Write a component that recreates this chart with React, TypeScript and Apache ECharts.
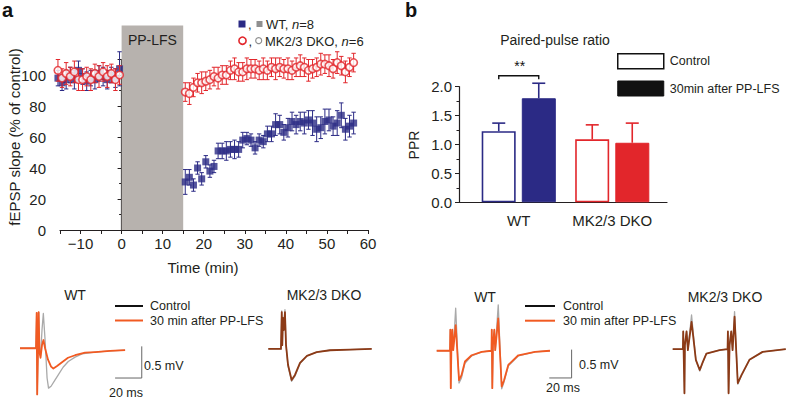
import React, { useEffect, useRef } from 'react';
import * as echarts from 'echarts';

// ---------- Panel a: time course ----------
const baseTime = [-15.5, -14.5, -13.5, -12.5, -11.5, -10.5, -9.5, -8.5, -7.5, -6.5, -5.5, -4.5, -3.5, -2.5, -1.5, -0.5];
const wtBase = [98, 95, 97, 100, 97, 103, 99, 96, 98, 97, 101, 99, 97, 100, 98, 104];
const wtBaseErr = [5, 5, 6, 5, 6, 6, 5, 6, 5, 6, 5, 6, 6, 5, 6, 11];
const dkoBase = [103, 98, 101, 99, 102, 97, 97, 99, 97, 101, 99, 102, 99, 101, 97, 100];
const dkoBaseErr = [7, 6, 7, 6, 7, 7, 7, 6, 7, 6, 7, 6, 7, 6, 7, 6];

const postTime = [15.5, 16.5, 17.5, 18.5, 19.5, 20.5, 21.5, 22.5, 23.5, 24.5, 25.5, 26.5, 27.5, 28.5, 29.5, 30.5, 31.5, 32.5, 33.5, 34.5, 35.5, 36.5, 37.5, 38.5, 39.5, 40.5, 41.5, 42.5, 43.5, 44.5, 45.5, 46.5, 47.5, 48.5, 49.5, 50.5, 51.5, 52.5, 53.5, 54.5, 55.5, 56.5];
const wtPost = [31, 34, 29, 40, 33, 44, 38, 41, 51, 51, 51, 52, 52, 52, 58, 59, 58, 53, 58, 57, 62, 62, 68, 68, 63, 66, 70, 68, 70, 69, 71, 69, 65, 66, 70, 71, 67, 69, 74, 65, 67, 69];
const wtPostErr = [8, 5, 4, 4, 4, 4, 4, 4, 5, 5, 6, 5, 6, 5, 5, 4, 4, 4, 4, 4, 5, 5, 7, 6, 5, 6, 6, 6, 6, 7, 6, 8, 8, 7, 8, 7, 6, 8, 8, 7, 7, 7];
const dkoPost = [89, 88, 92, 95, 95, 96, 97, 99, 98, 100, 100, 103, 104, 102, 102, 104, 104, 104, 103, 104, 103, 105, 104, 105, 104, 104, 103, 105, 106, 105, 103, 104, 105, 107, 107, 106, 104, 108, 106, 102, 105, 108];
const dkoPostErr = [6, 7, 6, 6, 7, 6, 6, 6, 7, 6, 6, 6, 7, 6, 6, 7, 6, 6, 6, 7, 6, 6, 7, 6, 6, 7, 6, 6, 7, 6, 7, 6, 6, 7, 6, 7, 6, 7, 6, 7, 6, 6];

const ppLfsWindow = [0, 15]; // min
const ppLfsBoxTop = 132;

// ---------- Panel b: paired-pulse ratio ----------
const pprGroups = ['WT', 'MK2/3 DKO'];
const pprControl = [1.23, 1.09];
const pprControlErr = [0.14, 0.25];
const pprAfter = [1.8, 1.03];
const pprAfterErr = [0.26, 0.34];
const pprTicks = [0, 0.5, 1.0, 1.5, 2.0];

// ---------- Example traces (ms, mV) ----------
const wtA_ctrl = [[0, 0], [12, 0], [12.5, 0.56], [12.9, -0.73], [13.5, -0.03], [14.0, 0.57], [14.6, -0.06], [15.4, -0.12], [16.5, 0.29], [17.5, 0.55], [18.8, 0.13], [20.3, -0.47], [21.4, -0.63], [23.3, -0.6], [26.3, -0.5], [28.7, -0.42], [32.3, -0.3], [36.2, -0.21], [41.3, -0.14], [46.5, -0.09], [56.3, -0.06], [67.5, -0.04], [78.8, -0.03]];
const wtA_lfs = [[0, 0], [12, 0], [12.5, 0.56], [12.9, -0.73], [13.5, -0.03], [14.0, 0.57], [14.6, -0.06], [15.4, -0.15], [16.5, 0.05], [17.6, 0.13], [18.8, 0.0], [21, -0.18], [23.3, -0.29], [25, -0.32], [27.8, -0.28], [31.5, -0.22], [36, -0.15], [41.3, -0.11], [48.8, -0.07], [56.3, -0.06], [67.5, -0.04], [78.8, -0.03]];
const dkoA_ctrl = [[0, 0], [9.5, 0], [10.1, 0.6], [10.5, 0.06], [11.0, 0.5], [11.6, 0.3], [12.5, 0.62], [13.3, 0.06], [14.8, -0.27], [17.5, -0.51], [20, -0.43], [23.8, -0.23], [29, -0.11], [36.3, -0.05], [46.3, -0.02], [61.3, -0.01], [77.6, 0]];
const dkoA_lfs = [[0, 0], [9.5, 0], [10.1, 0.58], [10.5, 0.06], [11.0, 0.49], [11.6, 0.3], [12.5, 0.58], [13.3, 0.06], [14.8, -0.25], [17.5, -0.49], [20, -0.41], [23.8, -0.22], [29, -0.11], [36.3, -0.05], [46.3, -0.02], [61.3, -0.01], [77.6, 0]];
const wtB_ctrl = [[0, 0], [11.9, 0], [12.2, 0.37], [12.6, -0.66], [13.2, 0.1], [14.0, 0.37], [14.8, 0.01], [17.0, 0.75], [20.0, -0.57], [22.2, -0.48], [25.3, -0.22], [31.3, -0.09], [40.3, -0.02], [49.1, 0], [49.3, 0.37], [49.8, -0.66], [50.4, 0.1], [51.6, 0.37], [52.4, 0.01], [55.1, 0.81], [58.2, -0.67], [60.3, -0.55], [64.1, -0.27], [73.1, -0.09], [88.0, -0.02], [101.4, 0]];
const wtB_lfs = [[0, 0], [11.9, 0], [12.2, 0.37], [12.6, -0.66], [13.2, 0.1], [14.0, 0.37], [14.8, 0.01], [17.0, 0.45], [20.0, -0.52], [22.2, -0.43], [25.3, -0.19], [31.3, -0.08], [40.3, -0.02], [49.1, 0], [49.3, 0.37], [49.8, -0.66], [50.4, 0.1], [51.6, 0.37], [52.4, 0.01], [55.1, 0.57], [58.2, -0.63], [60.3, -0.52], [64.1, -0.25], [73.1, -0.08], [88.0, -0.02], [101.4, 0]];
const dkoB_ctrl = [[0, 0], [9.2, 0], [9.5, 0.31], [10.6, -0.78], [11.0, 0.07], [12.5, 0.31], [13.7, -0.02], [17.0, 0.6], [20.9, -0.2], [24.4, -0.39], [27.1, -0.24], [30.4, -0.08], [42.3, -0.02], [49.5, 0], [49.8, 0.31], [50.4, -0.78], [51.3, 0.07], [52.8, 0.31], [54, -0.02], [55.8, 0.66], [58.7, -0.62], [62, -0.47], [69.2, -0.19], [81.1, -0.05], [102, 0]];
const dkoB_lfs = [[0, 0], [9.2, 0], [9.5, 0.31], [10.6, -0.78], [11.0, 0.07], [12.5, 0.31], [13.7, -0.02], [17.0, 0.48], [20.9, -0.19], [24.4, -0.37], [27.1, -0.23], [30.4, -0.08], [42.3, -0.02], [49.5, 0], [49.8, 0.31], [50.4, -0.78], [51.3, 0.07], [52.8, 0.31], [54, -0.02], [55.8, 0.57], [58.7, -0.6], [62, -0.46], [69.2, -0.19], [81.1, -0.05], [102, 0]];
// scale bars: 20 ms x 0.5 mV (L shape)
const scaleBarA = [[71.3, -0.47], [91.3, -0.47], [91.3, 0.03]];
const scaleBarB = [[100.8, -0.48], [120.8, -0.48], [120.8, 0.02]];

const NAVY = '#2b2a85';
const RED = '#e2262b';
const ORANGE = '#f15a22';
const BROWN = '#8c3a16';
const GRAYBOX = '#b7b2ae';
const TXT = '#231f20';
const FONT = '"Liberation Sans", Arial, Helvetica, sans-serif';

function errRender(color: string) {
  return (params: any, api: any) => {
    const x = api.value(0), y = api.value(1), e = api.value(2);
    const p1 = api.coord([x, y + e]);
    const p2 = api.coord([x, y - e]);
    const c = 2.2;
    const st = { stroke: color, lineWidth: 1 };
    return {
      type: 'group',
      children: [
        { type: 'line', shape: { x1: p1[0], y1: p1[1], x2: p2[0], y2: p2[1] }, style: st },
        { type: 'line', shape: { x1: p1[0] - c, y1: p1[1], x2: p1[0] + c, y2: p1[1] }, style: st },
        { type: 'line', shape: { x1: p2[0] - c, y1: p2[1], x2: p2[0] + c, y2: p2[1] }, style: st },
      ],
    };
  };
}

function zip3(t: number[], v: number[], e: number[]) {
  return t.map((x, i) => [x, v[i], e[i]]);
}
function zip2(t: number[], v: number[]) {
  return t.map((x, i) => [x, v[i]]);
}

export default function App() {
  const ref = useRef<HTMLDivElement>(null);
  useEffect(() => {
    if (!ref.current) return;
    const chart = echarts.init(ref.current, null, { renderer: 'svg' });

    const traceAxisX = (min: number, max: number, gi: number) => ({ type: 'value', gridIndex: gi, min, max, show: false });
    const traceAxisY = (min: number, max: number, gi: number) => ({ type: 'value', gridIndex: gi, min, max, show: false });
    const traceLine = (name: string, data: number[][], idx: number, color: string, w = 1.5, z = 3) => ({
      type: 'line', name, data, xAxisIndex: idx, yAxisIndex: idx, showSymbol: false, symbol: 'none', clip: false,
      lineStyle: { color, width: w, join: 'round' }, itemStyle: { color }, z, silent: true,
    });

    const barSide = 20; // half distance between paired bar centres (px)

    const option: any = {
      animation: false,
      textStyle: { fontFamily: FONT, color: TXT },
      grid: [
        { left: 60, top: 59.5, width: 308, height: 170.5 },
        { left: 472, top: 86.7, width: 187, height: 115.6 },
        { left: 459, top: 86.7, width: 208, height: 115.6 },
        { left: 20, top: 310.3, width: 126.7, height: 88.6 },
        { left: 268.3, top: 311, width: 106.6, height: 88.6 },
        { left: 436.7, top: 299.7, width: 139.6, height: 96.4 },
        { left: 672.7, top: 298, width: 116.2, height: 96.4 },
      ],
      xAxis: [
        {
          type: 'value', gridIndex: 0, min: -15, max: 60, interval: 5,
          axisLine: { show: true, lineStyle: { color: TXT, width: 1.2 } },
          axisTick: { show: true, inside: false, length: 4, lineStyle: { color: TXT } },
          axisLabel: {
            fontSize: 15, color: TXT, fontFamily: FONT, margin: 6,
            formatter: (v: number) => (v % 10 !== 0 ? '' : v < 0 ? '\u2212' + Math.abs(v) : String(v)),
          },
          splitLine: { show: false },
        },
        {
          type: 'category', gridIndex: 1, data: pprGroups,
          axisLine: { show: false }, axisTick: { show: false },
          axisLabel: { fontSize: 15, color: TXT, fontFamily: FONT, margin: 11, interval: 0 },
        },
        {
          type: 'value', gridIndex: 2, min: 0, max: 1,
          axisLine: { show: true, lineStyle: { color: TXT, width: 1.2 } },
          axisTick: { show: false }, axisLabel: { show: false }, splitLine: { show: false },
        },
        traceAxisX(0, 95, 3),
        traceAxisX(0, 80, 4),
        traceAxisX(0, 125, 5),
        traceAxisX(0, 104, 6),
      ],
      yAxis: [
        {
          type: 'value', gridIndex: 0, min: 0, max: 110, interval: 20, offset: 8,
          axisLine: { show: true, lineStyle: { color: TXT, width: 1.2 } },
          axisTick: { show: true, length: 4, lineStyle: { color: TXT } },
          minorTick: { show: true, splitNumber: 2, length: 2.5, lineStyle: { color: TXT } },
          axisLabel: { fontSize: 15, color: TXT, fontFamily: FONT, margin: 6, showMaxLabel: false },
          splitLine: { show: false },
        },
        {
          type: 'value', gridIndex: 1, min: pprTicks[0], max: pprTicks[pprTicks.length - 1], interval: 0.5, offset: 13,
          axisLine: { show: true, lineStyle: { color: TXT, width: 1.2 } },
          axisTick: { show: true, length: 4, lineStyle: { color: TXT } },
          minorTick: { show: true, splitNumber: 2, length: 2.5, lineStyle: { color: TXT } },
          axisLabel: { fontSize: 15, color: TXT, fontFamily: FONT, margin: 7, formatter: (v: number) => v.toFixed(1) },
          splitLine: { show: false },
        },
        { type: 'value', gridIndex: 2, show: false, min: 0, max: 1 },
        traceAxisY(-0.8, 0.6, 3),
        traceAxisY(-0.8, 0.6, 4),
        traceAxisY(-0.8, 0.9, 5),
        traceAxisY(-0.8, 0.9, 6),
      ],
      legend: {
        show: true, orient: 'vertical', left: 617, top: 53, padding: 0,
        itemWidth: 46, itemHeight: 15, itemGap: 11, icon: 'rect',
        textStyle: { fontSize: 12.5, color: TXT, fontFamily: FONT, padding: [0, 0, 0, 1] },
        selectedMode: false,
        data: [
          { name: 'Control', itemStyle: { color: '#ffffff', borderColor: '#111', borderWidth: 1.5 } },
          { name: '30min after PP-LFS', itemStyle: { color: '#111', borderColor: '#111', borderWidth: 1 } },
        ],
      },
      series: [
        // PP-LFS box
        {
          type: 'custom', xAxisIndex: 0, yAxisIndex: 0, clip: false, z: 1, silent: true,
          data: [[ppLfsWindow[0], ppLfsWindow[1], ppLfsBoxTop]],
          renderItem: (params: any, api: any) => {
            const p0 = api.coord([api.value(0), 0]);
            const p1 = api.coord([api.value(1), api.value(2)]);
            return {
              type: 'group',
              children: [
                { type: 'rect', shape: { x: p0[0], y: p1[1], width: p1[0] - p0[0], height: p0[1] - p1[1] }, style: { fill: GRAYBOX } },
                {
                  type: 'text', x: (p0[0] + p1[0]) / 2, y: p1[1] + 15,
                  style: { text: 'PP-LFS', fill: TXT, font: '14px ' + FONT, align: 'center', verticalAlign: 'middle' },
                },
              ],
            };
          },
        },
        // WT error bars + markers
        { type: 'custom', name: 'wtErrBase', xAxisIndex: 0, yAxisIndex: 0, clip: false, z: 2, silent: true, data: zip3(baseTime, wtBase, wtBaseErr), renderItem: errRender(NAVY) },
        { type: 'custom', name: 'wtErrPost', xAxisIndex: 0, yAxisIndex: 0, clip: false, z: 2, silent: true, data: zip3(postTime, wtPost, wtPostErr), renderItem: errRender(NAVY) },
        { type: 'scatter', name: 'WT base', xAxisIndex: 0, yAxisIndex: 0, clip: false, z: 3, symbol: 'rect', symbolSize: 7, itemStyle: { color: NAVY }, data: zip2(baseTime, wtBase) },
        { type: 'scatter', name: 'WT post', xAxisIndex: 0, yAxisIndex: 0, clip: false, z: 3, symbol: 'rect', symbolSize: 7, itemStyle: { color: NAVY }, data: zip2(postTime, wtPost) },
        // DKO error bars + markers
        { type: 'custom', name: 'dkoErrBase', xAxisIndex: 0, yAxisIndex: 0, clip: false, z: 4, silent: true, data: zip3(baseTime, dkoBase, dkoBaseErr), renderItem: errRender(RED) },
        { type: 'custom', name: 'dkoErrPost', xAxisIndex: 0, yAxisIndex: 0, clip: false, z: 4, silent: true, data: zip3(postTime, dkoPost, dkoPostErr), renderItem: errRender(RED) },
        { type: 'scatter', name: 'DKO base', xAxisIndex: 0, yAxisIndex: 0, clip: false, z: 5, symbol: 'circle', symbolSize: 7.5, itemStyle: { color: '#fff', borderColor: RED, borderWidth: 1.6 }, data: zip2(baseTime, dkoBase) },
        { type: 'scatter', name: 'DKO post', xAxisIndex: 0, yAxisIndex: 0, clip: false, z: 5, symbol: 'circle', symbolSize: 7.5, itemStyle: { color: '#fff', borderColor: RED, borderWidth: 1.6 }, data: zip2(postTime, dkoPost) },

        // Panel b bars
        {
          type: 'bar', name: 'Control', xAxisIndex: 1, yAxisIndex: 1, barWidth: 34, barGap: '18%', z: 2,
          itemStyle: { color: '#ffffff', borderColor: '#111', borderWidth: 1.5 },
          data: [
            { value: pprControl[0], itemStyle: { color: '#ffffff', borderColor: NAVY, borderWidth: 1.6 } },
            { value: pprControl[1], itemStyle: { color: '#ffffff', borderColor: RED, borderWidth: 1.6 } },
          ],
        },
        {
          type: 'bar', name: '30min after PP-LFS', xAxisIndex: 1, yAxisIndex: 1, barWidth: 34, barGap: '18%', z: 2,
          itemStyle: { color: '#111' },
          data: [
            { value: pprAfter[0], itemStyle: { color: NAVY, borderColor: NAVY, borderWidth: 1 } },
            { value: pprAfter[1], itemStyle: { color: RED, borderColor: RED, borderWidth: 1 } },
          ],
        },
        // Panel b error bars (upper only)
        {
          type: 'custom', xAxisIndex: 1, yAxisIndex: 1, clip: false, z: 1, silent: true,
          data: [
            [0, pprControl[0], pprControlErr[0], -1],
            [0, pprAfter[0], pprAfterErr[0], 1],
            [1, pprControl[1], pprControlErr[1], -1],
            [1, pprAfter[1], pprAfterErr[1], 1],
          ],
          renderItem: (params: any, api: any) => {
            const cat = api.value(0);
            const base = api.coord([cat, api.value(1)]);
            const top = api.coord([cat, api.value(1) + api.value(2)]);
            const x = base[0] + api.value(3) * barSide;
            const color = cat === 0 ? NAVY : RED;
            const st = { stroke: color, lineWidth: 1.6 };
            return {
              type: 'group',
              children: [
                { type: 'line', shape: { x1: x, y1: base[1], x2: x, y2: top[1] }, style: st },
                { type: 'line', shape: { x1: x - 6.5, y1: top[1], x2: x + 6.5, y2: top[1] }, style: st },
              ],
            };
          },
        },
        // significance bracket
        {
          type: 'custom', xAxisIndex: 1, yAxisIndex: 1, clip: false, z: 3, silent: true,
          data: [[0, 2.19]],
          renderItem: (params: any, api: any) => {
            const p = api.coord([api.value(0), api.value(1)]);
            const st = { stroke: '#111', lineWidth: 1.4 };
            return {
              type: 'group',
              children: [
                { type: 'polyline', shape: { points: [[p[0] - barSide, p[1] + 3.5], [p[0] - barSide, p[1]], [p[0] + barSide, p[1]], [p[0] + barSide, p[1] + 3.5]] }, style: { ...st, fill: 'none' } },
                { type: 'text', x: p[0] + 1, y: p[1] - 10, style: { text: '**', fill: '#111', font: '14px ' + FONT, align: 'center', verticalAlign: 'middle' } },
              ],
            };
          },
        },

        // Traces
        traceLine('WT a control', wtA_ctrl, 3, '#a9a9a9', 1.3, 3),
        traceLine('WT a 30 min', wtA_lfs, 3, ORANGE, 1.8, 4),
        traceLine('WT a scale', scaleBarA, 3, '#666', 1, 4),
        traceLine('DKO a control', dkoA_ctrl, 4, '#a9a9a9', 1.3, 3),
        traceLine('DKO a 30 min', dkoA_lfs, 4, BROWN, 1.8, 4),
        traceLine('WT b control', wtB_ctrl, 5, '#a9a9a9', 1.3, 3),
        traceLine('WT b 30 min', wtB_lfs, 5, ORANGE, 1.8, 4),
        traceLine('WT b scale', scaleBarB, 5, '#666', 1, 4),
        traceLine('DKO b control', dkoB_ctrl, 6, '#a9a9a9', 1.3, 3),
        traceLine('DKO b 30 min', dkoB_lfs, 6, BROWN, 1.8, 4),
      ],
      graphic: [
        // panel letters
        { type: 'text', left: 2, top: 0, style: { text: 'a', font: 'bold 20px ' + FONT, fill: '#111' } },
        { type: 'text', left: 405, top: 0, style: { text: 'b', font: 'bold 20px ' + FONT, fill: '#111' } },
        // panel a axis names
        { type: 'text', x: 14, y: 137, rotation: Math.PI / 2, style: { text: 'fEPSP slope (% of control)', font: '15px ' + FONT, fill: TXT, align: 'center', verticalAlign: 'middle' } },
        { type: 'text', x: 203, y: 267, style: { text: 'Time (min)', font: '15px ' + FONT, fill: TXT, align: 'center', verticalAlign: 'middle' } },
        // panel a legend
        { type: 'rect', shape: { x: 238.5, y: 20.5, width: 7, height: 7 }, style: { fill: NAVY } },
        { type: 'text', x: 248, y: 24, style: { text: ',', font: '13px ' + FONT, fill: TXT, verticalAlign: 'middle' } },
        { type: 'rect', shape: { x: 256.5, y: 21, width: 6, height: 6 }, style: { fill: '#8f8f8f' } },
        { type: 'text', x: 266, y: 24, style: { rich: { n: { font: 'italic 13px ' + FONT, fill: TXT }, r: { font: '13px ' + FONT, fill: TXT } }, text: '{r|WT, }{n|n}{r|=8}', verticalAlign: 'middle' } },
        { type: 'circle', shape: { cx: 242.5, cy: 40.7, r: 3.6 }, style: { fill: '#fff', stroke: RED, lineWidth: 1.6 } },
        { type: 'text', x: 248.5, y: 41, style: { text: ',', font: '13px ' + FONT, fill: TXT, verticalAlign: 'middle' } },
        { type: 'circle', shape: { cx: 258.7, cy: 40.7, r: 3 }, style: { fill: '#fff', stroke: '#8f8f8f', lineWidth: 1.2 } },
        { type: 'text', x: 265, y: 41, style: { rich: { n: { font: 'italic 13px ' + FONT, fill: TXT }, r: { font: '13px ' + FONT, fill: TXT } }, text: '{r|MK2/3 DKO, }{n|n}{r|=6}', verticalAlign: 'middle' } },
        // panel b title and axis name
        { type: 'text', x: 555, y: 40, style: { text: 'Paired-pulse ratio', font: '14px ' + FONT, fill: TXT, align: 'center', verticalAlign: 'middle' } },
        { type: 'text', x: 414, y: 145, rotation: Math.PI / 2, style: { text: 'PPR', font: '14px ' + FONT, fill: TXT, align: 'center', verticalAlign: 'middle' } },
        // trace titles
        { type: 'text', x: 75, y: 295, style: { text: 'WT', font: '14px ' + FONT, fill: TXT, align: 'center', verticalAlign: 'middle' } },
        { type: 'text', x: 324, y: 295, style: { text: 'MK2/3 DKO', font: '14px ' + FONT, fill: TXT, align: 'center', verticalAlign: 'middle' } },
        { type: 'text', x: 485, y: 297, style: { text: 'WT', font: '14px ' + FONT, fill: TXT, align: 'center', verticalAlign: 'middle' } },
        { type: 'text', x: 725, y: 297, style: { text: 'MK2/3 DKO', font: '14px ' + FONT, fill: TXT, align: 'center', verticalAlign: 'middle' } },
        // trace legends a
        { type: 'line', shape: { x1: 115, y1: 306, x2: 143, y2: 306 }, style: { stroke: '#111', lineWidth: 2 } },
        { type: 'text', x: 150, y: 306, style: { text: 'Control', font: '12.5px ' + FONT, fill: TXT, verticalAlign: 'middle' } },
        { type: 'line', shape: { x1: 115, y1: 320.5, x2: 143, y2: 320.5 }, style: { stroke: ORANGE, lineWidth: 2 } },
        { type: 'text', x: 150, y: 321, style: { text: '30 min after PP-LFS', font: '12.5px ' + FONT, fill: TXT, verticalAlign: 'middle' } },
        // trace legends b
        { type: 'line', shape: { x1: 525, y1: 306, x2: 555, y2: 306 }, style: { stroke: '#111', lineWidth: 2 } },
        { type: 'text', x: 563, y: 306, style: { text: 'Control', font: '12.5px ' + FONT, fill: TXT, verticalAlign: 'middle' } },
        { type: 'line', shape: { x1: 525, y1: 320.7, x2: 555, y2: 320.7 }, style: { stroke: ORANGE, lineWidth: 2 } },
        { type: 'text', x: 563, y: 321, style: { text: '30 min after PP-LFS', font: '12.5px ' + FONT, fill: TXT, verticalAlign: 'middle' } },
        // scale bar labels
        { type: 'text', x: 144, y: 366, style: { text: '0.5 mV', font: '12.5px ' + FONT, fill: TXT, verticalAlign: 'middle' } },
        { type: 'text', x: 126, y: 393, style: { text: '20 ms', font: '12.5px ' + FONT, fill: TXT, align: 'center', verticalAlign: 'middle' } },
        { type: 'text', x: 579, y: 365, style: { text: '0.5 mV', font: '12.5px ' + FONT, fill: TXT, verticalAlign: 'middle' } },
        { type: 'text', x: 563, y: 388, style: { text: '20 ms', font: '12.5px ' + FONT, fill: TXT, align: 'center', verticalAlign: 'middle' } },
      ],
    };

    chart.setOption(option);
    return () => chart.dispose();
  }, []);

  return <div ref={ref} style={{ position: 'fixed', left: 0, top: 0, width: 788, height: 400, background: '#fff' }} />;
}
